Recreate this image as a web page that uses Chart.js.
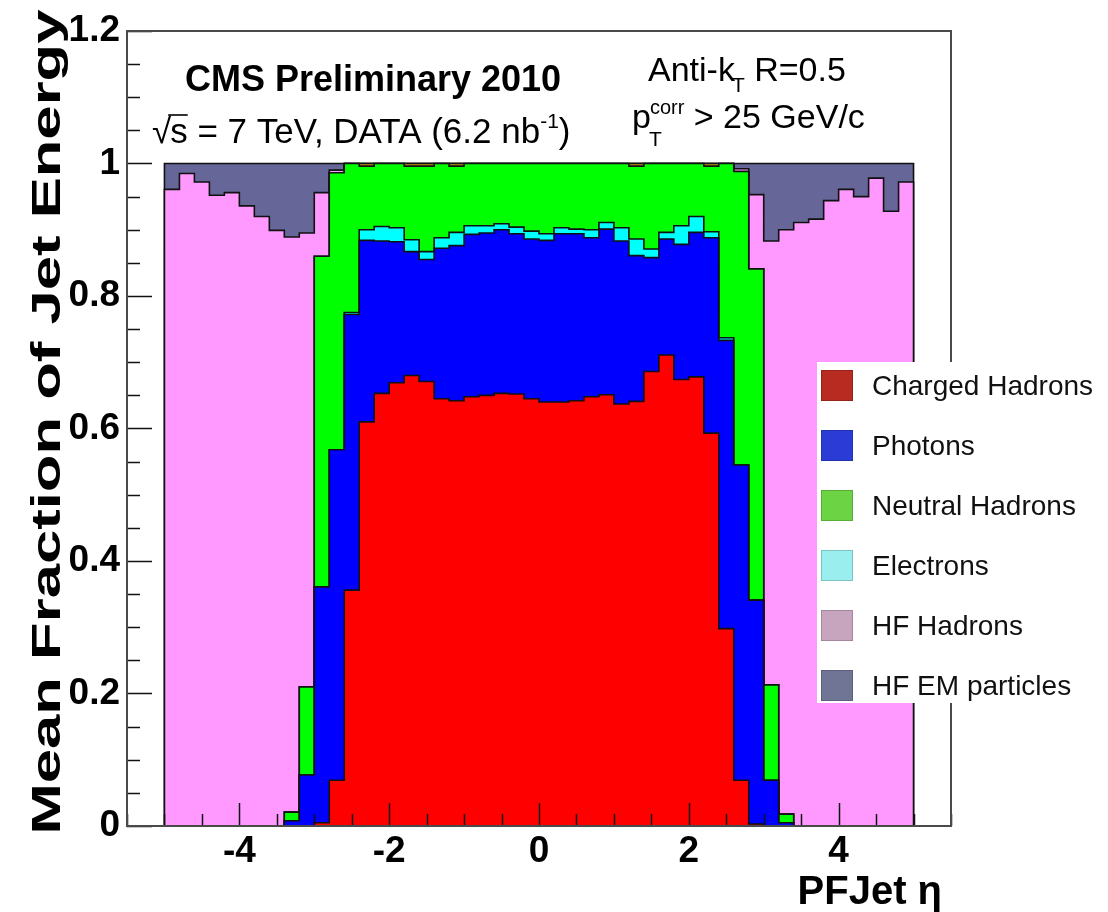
<!DOCTYPE html>
<html>
<head>
<meta charset="utf-8">
<title>PF jet energy composition</title>
<script src="https://cdn.jsdelivr.net/npm/chart.js@4.4.1/dist/chart.umd.min.js"></script>
<style>
  html, body { margin: 0; padding: 0; background: #fff; }
  #wrap { width: 1108px; height: 912px; position: relative; }
</style>
</head>
<body>
<div id="wrap"><canvas id="pfChart"></canvas></div>
<script>
const FONT = "'Liberation Sans', Arial, Helvetica, sans-serif";

// --- binning: 50 bins of 0.2 in eta, lower edges ---
const etaLowEdges = [
  -5.0, -4.8, -4.6, -4.4, -4.2, -4.0, -3.8, -3.6, -3.4, -3.2,
  -3.0, -2.8, -2.6, -2.4, -2.2, -2.0, -1.8, -1.6, -1.4, -1.2,
  -1.0, -0.8, -0.6, -0.4, -0.2, 0.0, 0.2, 0.4, 0.6, 0.8,
  1.0, 1.2, 1.4, 1.6, 1.8, 2.0, 2.2, 2.4, 2.6, 2.8,
  3.0, 3.2, 3.4, 3.6, 3.8, 4.0, 4.2, 4.4, 4.6, 4.8
];
const ETA_HIGH_EDGE = 5.0;
const X_MIN = -5.5, X_MAX = 5.5;

// --- mean energy fraction per particle type, per eta bin ---
const chargedHadrons = [
  0, 0, 0, 0, 0, 0, 0, 0, 0, 0,
  0.005, 0.069, 0.356, 0.610, 0.653, 0.669, 0.680, 0.671, 0.645, 0.642,
  0.648, 0.650, 0.653, 0.652, 0.645, 0.640, 0.640, 0.642, 0.648, 0.651,
  0.637, 0.641, 0.686, 0.711, 0.674, 0.678, 0.593, 0.298, 0.069, 0.003,
  0, 0, 0, 0, 0, 0, 0, 0, 0, 0
];
const photons = [
  0, 0, 0, 0, 0, 0, 0, 0, 0.008, 0.077,
  0.356, 0.499, 0.416, 0.274, 0.230, 0.213, 0.187, 0.184, 0.227, 0.234,
  0.245, 0.245, 0.247, 0.242, 0.241, 0.244, 0.254, 0.252, 0.240, 0.250,
  0.246, 0.220, 0.172, 0.175, 0.204, 0.218, 0.295, 0.435, 0.476, 0.338,
  0.069, 0.005, 0, 0, 0, 0, 0, 0, 0, 0
];
const electrons = [
  0, 0, 0, 0, 0, 0, 0, 0, 0, 0,
  0, 0, 0.003, 0.016, 0.022, 0.021, 0.018, 0.012, 0.016, 0.020,
  0.013, 0.011, 0.009, 0.010, 0.012, 0.010, 0.009, 0.007, 0.012, 0.010,
  0.020, 0.025, 0.013, 0.010, 0.028, 0.024, 0.009, 0.004, 0, 0,
  0, 0, 0, 0, 0, 0, 0, 0, 0, 0
];
const neutralHadrons = [
  0, 0, 0, 0, 0, 0, 0, 0, 0.013, 0.133,
  0.499, 0.418, 0.225, 0.096, 0.095, 0.097, 0.111, 0.129, 0.112, 0.100,
  0.094, 0.094, 0.091, 0.096, 0.102, 0.106, 0.097, 0.099, 0.100, 0.089,
  0.097, 0.110, 0.129, 0.104, 0.094, 0.080, 0.099, 0.263, 0.443, 0.500,
  0.144, 0.013, 0, 0, 0, 0, 0, 0, 0, 0
];
const muons = [
  0, 0, 0, 0, 0, 0, 0, 0, 0, 0,
  0, 0, 0, 0.004, 0, 0, 0.004, 0.004, 0, 0.004,
  0, 0, 0, 0, 0, 0, 0, 0, 0, 0,
  0, 0.004, 0, 0, 0, 0, 0.004, 0, 0, 0,
  0, 0, 0, 0, 0, 0, 0, 0, 0, 0
];
const hfHadrons = [
  0.961, 0.985, 0.972, 0.952, 0.956, 0.936, 0.920, 0.899, 0.868, 0.685,
  0.096, 0.004, 0, 0, 0, 0, 0, 0, 0, 0,
  0, 0, 0, 0, 0, 0, 0, 0, 0, 0,
  0, 0, 0, 0, 0, 0, 0, 0, 0.004, 0.112,
  0.670, 0.882, 0.911, 0.916, 0.944, 0.961, 0.950, 0.978, 0.928, 0.972
];
const hfEmParticles = [
  0.039, 0.015, 0.028, 0.048, 0.044, 0.064, 0.080, 0.101, 0.111, 0.105,
  0.044, 0.010, 0, 0, 0, 0, 0, 0, 0, 0,
  0, 0, 0, 0, 0, 0, 0, 0, 0, 0,
  0, 0, 0, 0, 0, 0, 0, 0, 0.008, 0.047,
  0.117, 0.100, 0.089, 0.084, 0.056, 0.039, 0.050, 0.022, 0.072, 0.028
];

const xTickValues = [-4, -2, 0, 2, 4];
const yTickValues = [0, 0.2, 0.4, 0.6, 0.8, 1, 1.2];

// legend entries in the order they are listed in the box
const legendOrder = ['Charged Hadrons', 'Photons', 'Neutral Hadrons', 'Electrons', 'HF Hadrons', 'HF EM particles'];

// turn bin contents into points for a stepped outline (value holds to the right of each edge)
function histPoints(values) {
  const pts = [{ x: X_MIN, y: 0 }];
  values.forEach((v, i) => pts.push({ x: etaLowEdges[i], y: v }));
  pts.push({ x: ETA_HIGH_EDGE, y: 0 });
  pts.push({ x: X_MAX, y: 0 });
  return pts;
}

function layer(label, values, fillColor, legendColor, first) {
  return {
    label: label,
    data: histPoints(values),
    backgroundColor: fillColor,
    borderColor: '#111',
    borderWidth: 1.6,
    fill: first ? 'origin' : '-1',
    stepped: 'before',
    pointRadius: 0,
    tension: 0,
    legendColor: legendColor
  };
}

// stacked bottom to top
const datasets = [
  layer('Charged Hadrons', chargedHadrons, '#ff0000', '#b82b20', true),
  layer('Photons', photons, '#0000ff', '#2b3cd6'),
  layer('Electrons', electrons, '#00ffff', '#9aeeee'),
  layer('Neutral Hadrons', neutralHadrons, '#00ff00', '#6cd444'),
  layer('Muons', muons, '#c89a10', null),
  layer('HF Hadrons', hfHadrons, '#ff99ff', '#c8a5bf'),
  layer('HF EM particles', hfEmParticles, '#666699', '#707596')
];

// draws text pieces one after another; each piece may have its own size and baseline shift
function drawPieces(ctx, x, y, pieces) {
  let cx = x;
  pieces.forEach(p => {
    ctx.font = (p.bold ? 'bold ' : '') + p.size + 'px ' + FONT;
    const w = ctx.measureText(p.text).width;
    ctx.fillText(p.text, cx + (p.dx || 0), y + (p.dy || 0));
    if (p.overline) {
      ctx.save();
      ctx.lineWidth = 1.6;
      ctx.strokeStyle = '#000';
      ctx.beginPath();
      ctx.moveTo(cx + (p.dx || 0) - 2, y - p.size * 0.80);
      ctx.lineTo(cx + (p.dx || 0) + w, y - p.size * 0.80);
      ctx.stroke();
      ctx.restore();
    }
    cx += w + (p.dx || 0);
  });
  return cx;
}

const rootStyle = {
  id: 'rootStyle',
  afterDatasetsDraw(chart) {
    const { ctx, chartArea: a, scales: { x, y } } = chart;
    ctx.save();
    // tick marks, drawn over the filled areas
    ctx.strokeStyle = '#111';
    ctx.lineWidth = 1.5;
    ctx.beginPath();
    for (let k = 0; k <= 24; k++) {
      const v = k * 0.05;
      const py = Math.round(y.getPixelForValue(v)) + 0.5;
      const len = (k % 4 === 0) ? 25 : 13;
      ctx.moveTo(a.left, py);
      ctx.lineTo(a.left + len, py);
    }
    for (let k = 0; k <= 22; k++) {
      const v = X_MIN + k * 0.5;
      const px = Math.round(x.getPixelForValue(v)) + 0.5;
      const len = (Math.abs(v) % 2 === 0) ? 23 : 12;
      ctx.moveTo(px, a.bottom);
      ctx.lineTo(px, a.bottom - len);
    }
    ctx.stroke();
    // frame
    ctx.strokeStyle = '#4a4a4a';
    ctx.lineWidth = 2;
    ctx.strokeRect(a.left, a.top, a.right - a.left, a.bottom - a.top);
    ctx.restore();
  },
  afterDraw(chart) {
    const { ctx } = chart;
    ctx.save();
    ctx.textBaseline = 'alphabetic';

    // legend box
    ctx.fillStyle = '#fff';
    ctx.fillRect(817, 362, 1108 - 817, 341);
    legendOrder.forEach((name, i) => {
      const ds = chart.data.datasets.find(d => d.label === name);
      const cy = 385 + i * 60;
      ctx.fillStyle = ds.legendColor;
      ctx.fillRect(821, cy - 15, 32, 31);
      ctx.strokeStyle = 'rgba(0,0,0,0.18)';
      ctx.lineWidth = 1;
      ctx.strokeRect(821.5, cy - 14.5, 31, 30);
      ctx.fillStyle = '#111';
      ctx.font = '28px ' + FONT;
      ctx.fillText(name, 872, cy + 10);
    });

    ctx.fillStyle = '#000';
    // experiment label
    ctx.font = 'bold 36px ' + FONT;
    ctx.textAlign = 'center';
    ctx.fillText('CMS Preliminary 2010', 373, 91);
    ctx.textAlign = 'left';
    drawPieces(ctx, 152, 143, [
      { text: '\u221A', size: 35 },
      { text: 's', size: 35, overline: true, dx: -1 },
      { text: ' = 7 TeV, DATA (6.2 nb', size: 35 },
      { text: '-1', size: 21, dy: -15 },
      { text: ')', size: 35 }
    ]);

    // jet definition
    let cx = drawPieces(ctx, 648, 81, [{ text: 'Anti-k', size: 34 }]);
    cx = drawPieces(ctx, cx - 3, 92, [{ text: 'T', size: 21 }]);
    drawPieces(ctx, cx, 81, [{ text: ' R=0.5', size: 34 }]);

    cx = drawPieces(ctx, 632, 128, [{ text: 'p', size: 34 }]);
    drawPieces(ctx, cx - 2, 146, [{ text: 'T', size: 21 }]);
    cx = drawPieces(ctx, cx - 1, 114, [{ text: 'corr', size: 20 }]);
    drawPieces(ctx, cx, 128, [{ text: ' > 25 GeV/c', size: 34 }]);

    // axis titles
    ctx.font = 'bold 40px ' + FONT;
    ctx.textAlign = 'right';
    ctx.fillText('PFJet \u03B7', 942, 904);

    const yTitle = 'Mean Fraction of Jet Energy';
    ctx.font = 'bold 40px ' + FONT;
    const w = ctx.measureText(yTitle).width;
    ctx.translate(60, 422);
    ctx.rotate(-Math.PI / 2);
    ctx.scale(825 / w, 1);
    ctx.textAlign = 'center';
    ctx.fillText(yTitle, 0, 0);
    ctx.restore();
  }
};

const ctx = document.getElementById('pfChart').getContext('2d');
new Chart(ctx, {
  type: 'line',
  data: { datasets: datasets },
  options: {
    responsive: true,
    maintainAspectRatio: false,
    animation: false,
    layout: { padding: { top: 31, right: 157, left: 0, bottom: 0 } },
    plugins: {
      legend: { display: false },
      tooltip: { enabled: false }
    },
    scales: {
      x: {
        type: 'linear',
        min: X_MIN,
        max: X_MAX,
        grid: { display: false, drawTicks: false },
        border: { display: false },
        afterBuildTicks: s => { s.ticks = xTickValues.map(v => ({ value: v })); },
        afterFit: s => { s.height = 86; },
        ticks: {
          font: { family: FONT, size: 37, weight: 'bold' },
          color: '#000',
          padding: 4,
          maxRotation: 0,
          autoSkip: false,
          callback: v => String(v)
        }
      },
      y: {
        stacked: true,
        min: 0,
        max: 1.2,
        grid: { display: false, drawTicks: false },
        border: { display: false },
        afterBuildTicks: s => { s.ticks = yTickValues.map(v => ({ value: v })); },
        afterFit: s => { s.width = 127; },
        ticks: {
          font: { family: FONT, size: 37, weight: 'bold' },
          color: '#000',
          padding: 7,
          autoSkip: false,
          callback: v => String(+v.toFixed(1))
        }
      }
    }
  },
  plugins: [rootStyle]
});
</script>
</body>
</html>
